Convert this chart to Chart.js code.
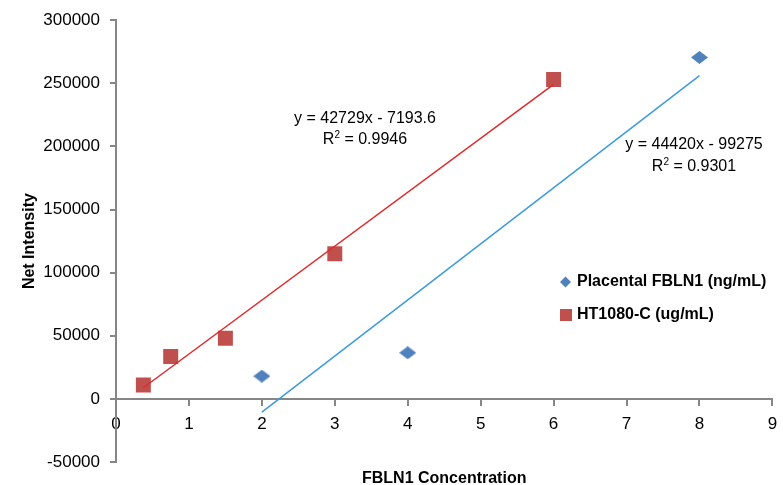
<!DOCTYPE html>
<html>
<head>
<meta charset="utf-8">
<script src="https://cdn.jsdelivr.net/npm/chart.js@4"></script>
<style>
  html, body { margin: 0; padding: 0; background: #fff; }
</style>
</head>
<body>
<canvas id="scatterChart" width="783" height="485"></canvas>
<script>
// values
const placentalConc = [2, 4, 8];
const placentalIntensity = [18000, 36500, 270500];
const htConc = [0.375, 0.75, 1.5, 3, 6];
const htIntensity = [11000, 33500, 48000, 115000, 253000];

const xTickValues = [0, 1, 2, 3, 4, 5, 6, 7, 8, 9];
const yTickValues = [-50000, 0, 50000, 100000, 150000, 200000, 250000, 300000];

// linear trendlines as printed on the chart: [slope, intercept], and x range of the fit
const placentalTrend = [44420, -99275];
const placentalTrendRange = [2, 8];
const htTrend = [42729, -7193.6];
const htTrendRange = [0.375, 6];

const placentalLabel = "Placental FBLN1 (ng/mL)";
const htLabel = "HT1080-C (ug/mL)";
const placentalEquation = ["y = 44420x - 99275", "0.9301"];
const htEquation = ["y = 42729x - 7193.6", "0.9946"];

const blueColor = "#4F81BD";
const redColor = "#C0504D";
const blueTrendColor = "#3D9BDD";
const redTrendColor = "#DD2B2B";
const axisColor = "#868686";
const fontFamily = '"Liberation Sans", Arial, sans-serif';

function toPoints(xs, ys) {
  return xs.map((x, i) => ({ x: x, y: ys[i] }));
}

function trendPoints(coef, range) {
  return range.map((x) => ({ x: x, y: coef[0] * x + coef[1] }));
}

// wide diamond marker like the original
const diamond = document.createElement("canvas");
diamond.width = 17;
diamond.height = 13;
(function () {
  const c = diamond.getContext("2d");
  c.fillStyle = blueColor;
  c.beginPath();
  c.moveTo(8.5, 0);
  c.lineTo(17, 6.5);
  c.lineTo(8.5, 13);
  c.lineTo(0, 6.5);
  c.closePath();
  c.fill();
})();

function drawR2(ctx, value, cx, cy) {
  ctx.font = "16px " + fontFamily;
  const wR = ctx.measureText("R").width;
  const rest = " = " + value;
  const wRest = ctx.measureText(rest).width;
  ctx.font = "10px " + fontFamily;
  const w2 = ctx.measureText("2").width;
  let x = cx - (wR + w2 + wRest) / 2;
  ctx.textAlign = "left";
  ctx.font = "16px " + fontFamily;
  ctx.fillText("R", x, cy);
  x += wR;
  ctx.font = "10px " + fontFamily;
  ctx.fillText("2", x, cy - 5);
  x += w2;
  ctx.font = "16px " + fontFamily;
  ctx.fillText(rest, x, cy);
}

const annotationPlugin = {
  id: "annotations",
  afterDraw(chart) {
    const ctx = chart.ctx;
    ctx.save();
    ctx.fillStyle = "#000";
    ctx.textBaseline = "middle";

    // trendline equations
    ctx.font = "16px " + fontFamily;
    ctx.textAlign = "center";
    ctx.fillText(htEquation[0], 365, 119);
    drawR2(ctx, htEquation[1], 365, 140);
    ctx.textAlign = "center";
    ctx.fillText(placentalEquation[0], 694, 145);
    drawR2(ctx, placentalEquation[1], 694, 167);

    // legend
    ctx.fillStyle = blueColor;
    ctx.beginPath();
    ctx.moveTo(565.5, 276.5);
    ctx.lineTo(571, 282);
    ctx.lineTo(565.5, 287.5);
    ctx.lineTo(560, 282);
    ctx.closePath();
    ctx.fill();
    ctx.fillStyle = redColor;
    ctx.fillRect(560, 309, 12, 12);

    ctx.fillStyle = "#000";
    ctx.textAlign = "left";
    ctx.font = "bold 16px " + fontFamily;
    ctx.fillText(placentalLabel, 577, 282);
    ctx.fillText(htLabel, 577, 315);
    ctx.restore();
  },
};

const ctx = document.getElementById("scatterChart").getContext("2d");
const chart = new Chart(ctx, {
  type: "scatter",
  data: {
    datasets: [
      {
        label: placentalLabel,
        data: toPoints(placentalConc, placentalIntensity),
        pointStyle: diamond,
        backgroundColor: blueColor,
        borderColor: blueColor,
        order: 1,
      },
      {
        label: htLabel,
        data: toPoints(htConc, htIntensity),
        pointStyle: "rect",
        pointRadius: 10.6,
        pointBorderWidth: 0,
        backgroundColor: redColor,
        borderColor: redColor,
        order: 1,
      },
      {
        label: "placental trend",
        data: trendPoints(placentalTrend, placentalTrendRange),
        showLine: true,
        pointRadius: 0,
        borderColor: blueTrendColor,
        borderWidth: 1.5,
        order: 0,
      },
      {
        label: "ht1080 trend",
        data: trendPoints(htTrend, htTrendRange),
        showLine: true,
        pointRadius: 0,
        borderColor: redTrendColor,
        borderWidth: 1.5,
        order: 0,
      },
    ],
  },
  options: {
    responsive: false,
    animation: false,
    layout: { padding: { top: 17, right: 10, left: 0, bottom: 0 } },
    plugins: {
      legend: { display: false },
      tooltip: { enabled: false },
    },
    scales: {
      x: {
        type: "linear",
        position: { y: 0 },
        min: 0,
        max: 9,
        afterBuildTicks: (axis) => {
          axis.ticks = xTickValues.map((v) => ({ value: v }));
        },
        afterFit: (scale) => {
          scale.paddingLeft = 0;
          scale.paddingRight = 0;
        },
        grid: {
          drawOnChartArea: false,
          tickLength: 6,
          color: axisColor,
          lineWidth: 2,
        },
        border: { color: axisColor, width: 2 },
        ticks: {
          padding: 9,
          color: "#000",
          font: { family: fontFamily, size: 17 },
          maxRotation: 0,
        },
      },
      xTitle: {
        type: "linear",
        position: "bottom",
        min: 0,
        max: 9,
        grid: { display: false },
        border: { display: false },
        ticks: { display: false },
        afterFit: (scale) => {
          scale.height = 23;
          scale.paddingLeft = 0;
          scale.paddingRight = 0;
        },
        title: {
          display: true,
          text: "FBLN1 Concentration",
          color: "#000",
          padding: 0,
          font: { family: fontFamily, size: 16, weight: "bold", lineHeight: 0.8 },
        },
      },
      y: {
        type: "linear",
        position: "left",
        min: -50000,
        max: 300000,
        afterBuildTicks: (axis) => {
          axis.ticks = yTickValues.map((v) => ({ value: v }));
        },
        afterFit: (scale) => {
          scale.width = 116;
        },
        grid: {
          drawOnChartArea: false,
          tickLength: 6,
          color: axisColor,
          lineWidth: 2,
        },
        border: { color: axisColor, width: 2 },
        ticks: {
          padding: 10,
          color: "#000",
          font: { family: fontFamily, size: 17 },
          callback: (value) => String(value),
        },
        title: {
          display: true,
          text: "Net Intensity",
          color: "#000",
          padding: { top: 20, bottom: 0 },
          font: { family: fontFamily, size: 16, weight: "bold" },
        },
      },
    },
  },
  plugins: [annotationPlugin],
});
</script>
</body>
</html>
